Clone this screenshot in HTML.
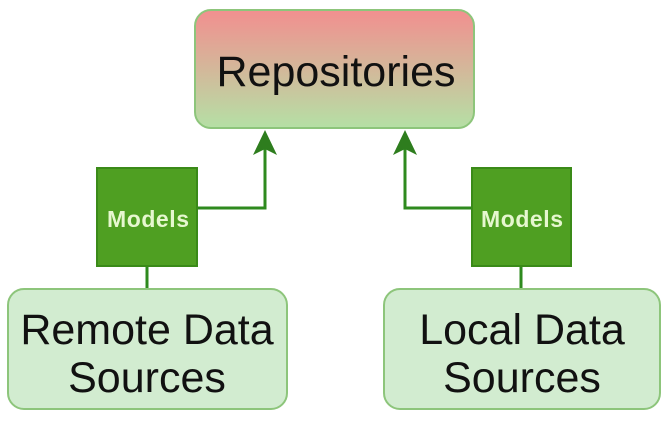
<!DOCTYPE html>
<html><head><style>
body{margin:0;width:670px;height:416px;background:#fff;overflow:hidden;font-family:"Liberation Sans",sans-serif}
</style></head><body>
<svg width="670" height="416" xmlns="http://www.w3.org/2000/svg">
<defs>
<linearGradient id="g" x1="0" y1="0" x2="0" y2="1">
<stop offset="0" stop-color="#f28f8f"/><stop offset="1" stop-color="#b5e0a5"/>
</linearGradient>
</defs>
<rect x="195" y="10" width="279" height="118" rx="16" fill="url(#g)" stroke="#8dc57b" stroke-width="2"/>
<text x="336" y="86" font-size="43" text-anchor="middle" fill="#111">Repositories</text>
<g stroke="#2e8a1e" stroke-width="3" fill="none">
<polyline points="197,208 265,208 265,148"/>
<polyline points="472,208 405,208 405,148"/>
<line x1="147" y1="266" x2="147" y2="289"/>
<line x1="521" y1="266" x2="521" y2="289"/>
</g>
<polygon points="265,130 253,155 265,149 277,155" fill="#2e7d1e"/>
<polygon points="405,130 393,155 405,149 417,155" fill="#2e7d1e"/>
<rect x="97" y="168" width="100" height="98" fill="#4f9f22" stroke="#3a8a18" stroke-width="2"/>
<rect x="472" y="168" width="99" height="98" fill="#4f9f22" stroke="#3a8a18" stroke-width="2"/>
<text x="148" y="227" font-size="23" font-weight="bold" text-anchor="middle" fill="#e6f7cf" textLength="82">Models</text>
<text x="522" y="227" font-size="23" font-weight="bold" text-anchor="middle" fill="#e6f7cf" textLength="82">Models</text>
<rect x="8" y="289" width="279" height="120" rx="16" fill="#d2ecd0" stroke="#8dc57b" stroke-width="2"/>
<rect x="384" y="289" width="276" height="120" rx="16" fill="#d2ecd0" stroke="#8dc57b" stroke-width="2"/>
<text x="147" y="344" font-size="43" text-anchor="middle" fill="#111">Remote Data</text>
<text x="147" y="392" font-size="43" text-anchor="middle" fill="#111">Sources</text>
<text x="522" y="344" font-size="43" text-anchor="middle" fill="#111">Local Data</text>
<text x="522" y="392" font-size="43" text-anchor="middle" fill="#111">Sources</text>
</svg>
</body></html>
